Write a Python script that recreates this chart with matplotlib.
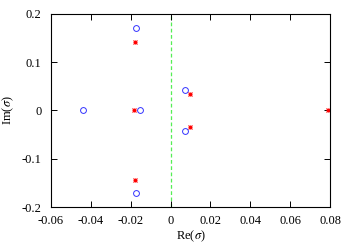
import matplotlib
matplotlib.use("Agg")
import matplotlib.pyplot as plt

plt.rcParams['font.family'] = ['Liberation Serif', 'DejaVu Serif']
plt.rcParams['mathtext.fontset'] = 'stix'

# blue circles
blue_re = [-0.0438, -0.0172, -0.0154, -0.0172, 0.0072, 0.0070]
blue_im = [0.0, 0.170, 0.0, -0.172, 0.042, -0.0425]
# red stars
red_re = [-0.0180, -0.0184, -0.0180, 0.0095, 0.0095, 0.0788]
red_im = [0.143, 0.0, -0.144, 0.0336, -0.035, 0.0]

fig = plt.figure(figsize=(3.51, 2.45), dpi=100)
ax = fig.add_axes([51/351, 38/245, 279/351, 193/245])

ax.axvline(0, color='#55ee55', ls=(0, (3, 2)), lw=0.9, zorder=1)
ax.plot(blue_re, blue_im, 'o', mfc='none', mec='#3333ff', ms=4.2, mew=0.7, ls='none')
ax.plot(red_re, red_im, 'x', color='red', ms=3.5, mew=0.8, ls='none')
ax.plot(red_re, red_im, '+', color='red', ms=3.5, mew=0.8, ls='none')

ax.set_xlim(-0.06, 0.08)
ax.set_ylim(-0.2, 0.2)
ax.set_xticks([-0.06, -0.04, -0.02, 0, 0.02, 0.04, 0.06, 0.08])
ax.set_xticklabels(['-0.06', '-0.04', '-0.02', '0', '0.02', '0.04', '0.06', '0.08'])
ax.set_yticks([-0.2, -0.1, 0, 0.1, 0.2])
ax.set_yticklabels(['-0.2', '-0.1', '0', '0.1', '0.2'])
ax.tick_params(direction='in', top=True, right=True, labelsize=9, length=4, width=0.7)
ax.tick_params(axis='x', pad=6)
ax.tick_params(axis='y', pad=7)
for s in ax.spines.values():
    s.set_linewidth(0.8)
ax.set_xlabel(r'Re($\sigma$)', fontsize=9, labelpad=1)
ax.set_ylabel(r'Im($\sigma$)', fontsize=9, labelpad=4)

fig.savefig('out.png', dpi=100)
